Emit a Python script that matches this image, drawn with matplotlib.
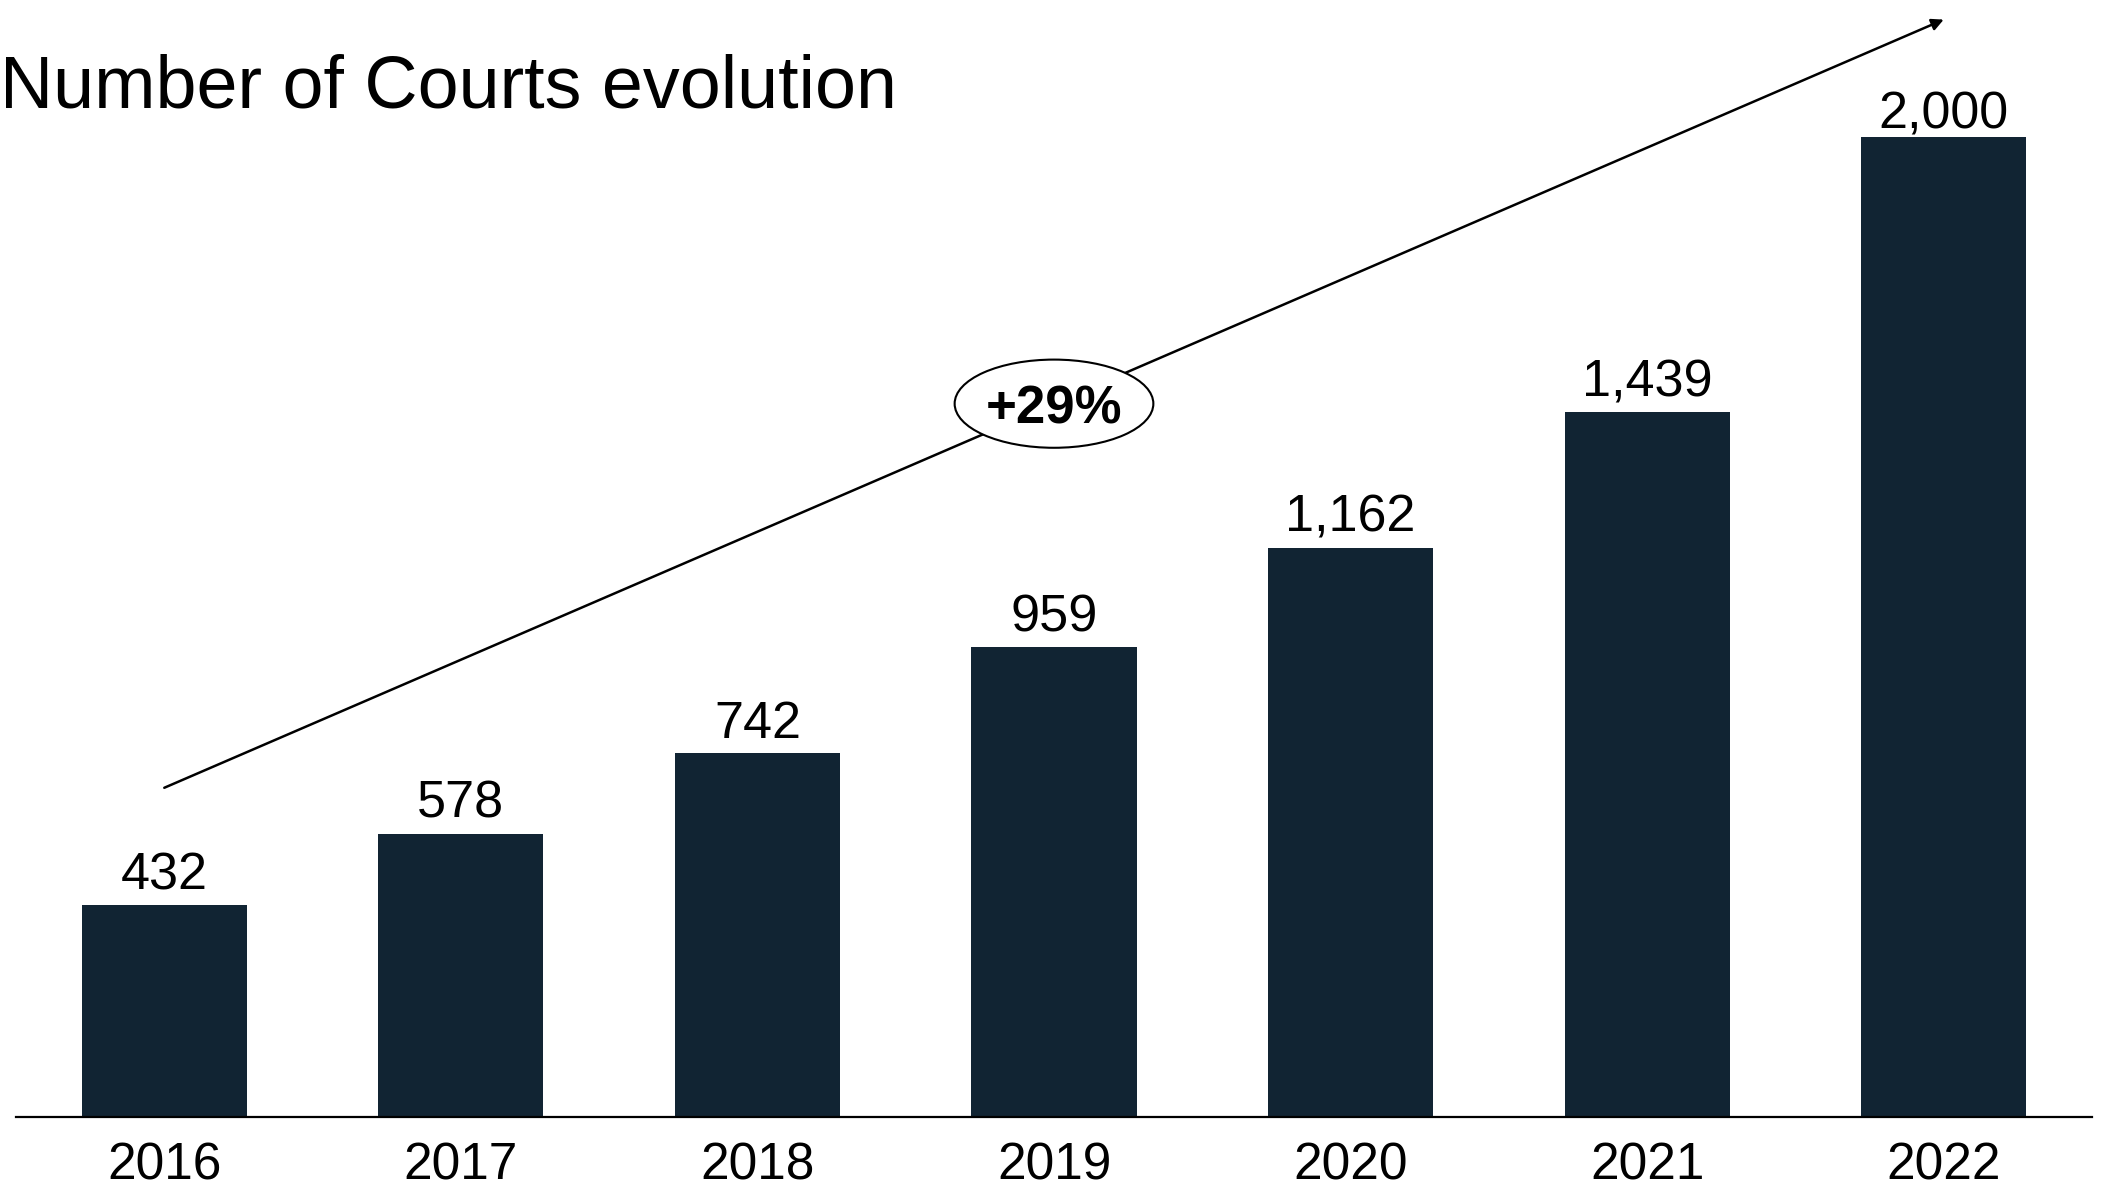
# Number of courts per year, bar chart with a growth arrow and a CAGR bubble.

import matplotlib
matplotlib.use("Agg")
import matplotlib.pyplot as plt
from matplotlib.patches import Ellipse

years = ["2016", "2017", "2018", "2019", "2020", "2021", "2022"]
courts = [432, 578, 742, 959, 1162, 1439, 2000]
growth_label = "+29%"
title = "Number of Courts evolution"

BAR_COLOR = "#112433"
ARROW_LIFT = 240  # arrow runs this far above the first and last bars

plt.rcParams["font.family"] = ["Liberation Sans", "DejaVu Sans"]

fig = plt.figure(figsize=(21.02, 11.96), dpi=100)
ax = fig.add_axes([16 / 2102, 79 / 1196, 2076 / 2102, 1117 / 1196])

x = list(range(len(years)))
ax.bar(x, courts, width=0.557, color=BAR_COLOR, zorder=2)
ax.set_xlim(-0.5, len(years) - 0.5)
ax.set_ylim(0, 2280)

for i, v in enumerate(courts):
    # the last label sits a little tighter so it clears the arrow
    off = 6 if i == len(courts) - 1 else 11.5
    ax.annotate(f"{v:,}", (i, v), xytext=(0, off), textcoords="offset points",
                ha="center", va="baseline", fontsize=37.5)

ax.set_xticks(x)
ax.set_xticklabels(years, fontsize=37)
ax.tick_params(axis="x", length=0, pad=18)
ax.set_yticks([])
for side in ["top", "left", "right"]:
    ax.spines[side].set_visible(False)
ax.spines["bottom"].set_linewidth(1.6)

# growth arrow from the first bar to the last
y0 = courts[0] + ARROW_LIFT
y1 = courts[-1] + ARROW_LIFT
ax.annotate("", xy=(x[-1], y1), xytext=(x[0], y0),
            arrowprops=dict(arrowstyle="-|>,head_length=0.7,head_width=0.35",
                            color="black", lw=1.8, shrinkA=0, shrinkB=0),
            zorder=3)

# CAGR bubble sitting on the arrow, over 2019
mid = 3
ym = y0 + (y1 - y0) * (mid - x[0]) / (x[-1] - x[0])
ax.add_patch(Ellipse((mid, ym), width=0.67, height=180, facecolor="white",
                     edgecolor="black", lw=1.5, zorder=4))
ax.text(mid, ym, growth_label, ha="center", va="center_baseline", fontsize=38,
        fontweight="bold", zorder=5)

fig.text(0.0, 1 - 107 / 1196, title, ha="left", va="baseline", fontsize=53)

fig.savefig("out.png", dpi=100)
